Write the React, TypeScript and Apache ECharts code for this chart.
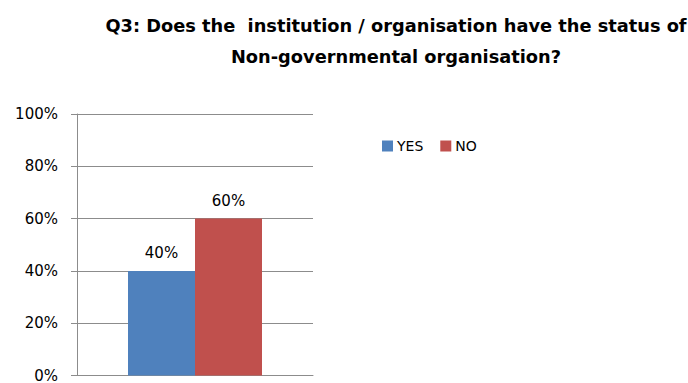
import React, { useEffect, useRef } from "react";
import * as echarts from "echarts";

const categories = [""];
const seriesNames = ["YES", "NO"];
const yesValues = [40];
const noValues = [60];
const seriesColors = ["#4F81BD", "#C0504D"];
const titleLines = [
  "Q3: Does the  institution / organisation have the status of",
  "Non-governmental organisation?",
];

const FONT = "'DejaVu Sans', sans-serif";

export default function App() {
  const ref = useRef<HTMLDivElement>(null);

  useEffect(() => {
    if (!ref.current) return;
    const chart = echarts.init(ref.current, undefined, { renderer: "svg" });
    const label = {
      show: true,
      position: "top" as const,
      distance: 10,
      formatter: "{c}%",
      color: "#000",
      fontSize: 15,
      fontFamily: FONT,
    };
    chart.setOption({
      animation: false,
      backgroundColor: "#fff",
      title: {
        text: titleLines.join("\n"),
        left: 396,
        top: 10,
        padding: 0,
        textAlign: "center",
        textStyle: {
          fontFamily: FONT,
          fontWeight: "bold",
          fontSize: 17.8,
          lineHeight: 31,
          color: "#000",
        },
      },
      legend: {
        data: seriesNames,
        left: 382,
        top: 139,
        padding: 0,
        icon: "rect",
        itemWidth: 11,
        itemHeight: 11,
        itemGap: 17,
        textStyle: { fontFamily: FONT, fontSize: 14, color: "#000", padding: [0, 0, 0, -1] },
      },
      grid: { left: 77, top: 114, width: 236, height: 264, containLabel: false },
      xAxis: {
        type: "category",
        data: categories,
        axisLine: { show: true, lineStyle: { color: "#8c8c8c", width: 1 } },
        axisTick: { show: false },
        axisLabel: { show: false },
      },
      yAxis: {
        type: "value",
        min: 0,
        max: 100,
        interval: 20,
        axisLine: { show: true, lineStyle: { color: "#8c8c8c", width: 1 } },
        axisTick: { show: true, length: 6, lineStyle: { color: "#8c8c8c" } },
        axisLabel: {
          formatter: "{value}%",
          fontFamily: FONT,
          fontSize: 15,
          color: "#000",
          margin: 19,
        },
        splitLine: { show: true, lineStyle: { color: "#8c8c8c", width: 1 } },
      },
      series: [
        {
          name: seriesNames[0],
          type: "bar",
          data: yesValues,
          barWidth: 67,
          barGap: "0%",
          itemStyle: { color: seriesColors[0] },
          label,
        },
        {
          name: seriesNames[1],
          type: "bar",
          data: noValues,
          barWidth: 67,
          barGap: "0%",
          itemStyle: { color: seriesColors[1] },
          label,
        },
      ],
    });
    return () => chart.dispose();
  }, []);

  return (
    <div
      ref={ref}
      style={{ position: "fixed", left: 0, top: 0, width: 688, height: 383 }}
    />
  );
}
